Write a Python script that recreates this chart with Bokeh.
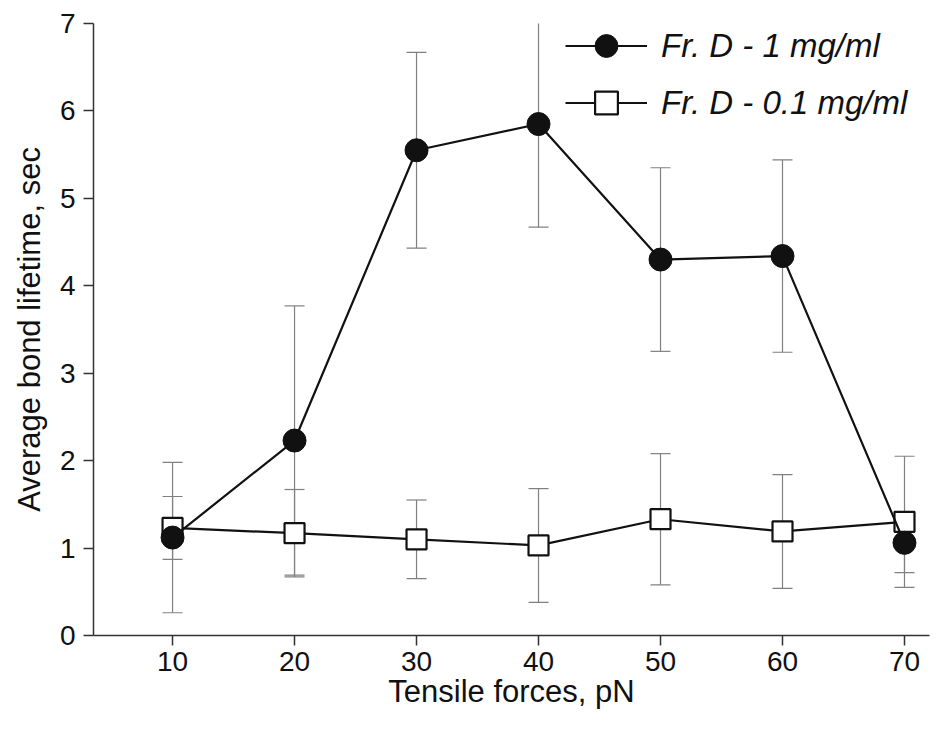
from bokeh.plotting import figure
from bokeh.models import ColumnDataSource, Whisker, TeeHead, Legend, LegendItem, Range1d, FixedTicker
from bokeh.embed import file_html
from bokeh.resources import INLINE

force = [10, 20, 30, 40, 50, 60, 70]
life_1mg = [1.12, 2.23, 5.55, 5.85, 4.30, 4.34, 1.06]
err_1mg = [0.86, 1.54, 1.12, 1.18, 1.05, 1.10, 0.34]
life_01mg = [1.23, 1.17, 1.10, 1.03, 1.33, 1.19, 1.30]
err_01mg = [0.36, 0.50, 0.45, 0.65, 0.75, 0.65, 0.75]
x_ticks = [10, 20, 30, 40, 50, 60, 70]
y_ticks = [0, 1, 2, 3, 4, 5, 6, 7]

src1 = ColumnDataSource(dict(x=force, y=life_1mg,
                             lo=[v - e for v, e in zip(life_1mg, err_1mg)],
                             hi=[v + e for v, e in zip(life_1mg, err_1mg)]))
src2 = ColumnDataSource(dict(x=force, y=life_01mg,
                             lo=[v - e for v, e in zip(life_01mg, err_01mg)],
                             hi=[v + e for v, e in zip(life_01mg, err_01mg)]))

p = figure(frame_width=836, frame_height=612, output_backend="svg", toolbar_location=None,
           x_range=Range1d(3.52, 72.05), y_range=Range1d(0, 7),
           min_border_left=93, min_border_right=17, min_border_top=23, min_border_bottom=104)
p.outline_line_color = None
p.xgrid.grid_line_color = None
p.ygrid.grid_line_color = None
p.background_fill_color = "white"
p.border_fill_color = "white"

FONT = "Liberation Sans"
for ax in (p.xaxis[0], p.yaxis[0]):
    ax.axis_line_color = "#333333"
    ax.axis_line_width = 1.5
    ax.major_tick_line_color = "#333333"
    ax.major_tick_line_width = 1.5
    ax.major_tick_out = 10
    ax.major_tick_in = 0
    ax.minor_tick_line_color = None
    ax.major_label_text_font = FONT
    ax.major_label_text_font_size = "28px"
    ax.major_label_text_color = "#111111"
    ax.axis_label_text_font = FONT
    ax.axis_label_text_font_size = "31px"
    ax.axis_label_text_font_style = "normal"
    ax.axis_label_text_color = "#111111"

p.xaxis.ticker = FixedTicker(ticks=x_ticks)
p.yaxis.ticker = FixedTicker(ticks=y_ticks)
p.xaxis.axis_label = "Tensile forces, pN"
p.yaxis.axis_label = "Average bond lifetime, sec"
p.xaxis.major_label_standoff = 6
p.yaxis.major_label_standoff = 8
p.xaxis.axis_label_standoff = 0
p.yaxis.axis_label_standoff = 10

# square series (behind)
l2 = p.line("x", "y", source=src2, line_color="#111111", line_width=2.2)
m2 = p.scatter("x", "y", source=src2, marker="square", size=20, fill_color="white",
               line_color="#111111", line_width=2.2)

# error bars
for src in (src2, src1):
    w = Whisker(source=src, base="x", lower="lo", upper="hi",
                line_color="#808080", line_width=1.2,
                upper_head=TeeHead(size=20, line_color="#808080", line_width=1.2),
                lower_head=TeeHead(size=20, line_color="#808080", line_width=1.2))
    p.add_layout(w)

# circle series (front)
l1 = p.line("x", "y", source=src1, line_color="#111111", line_width=2.2)
m1 = p.scatter("x", "y", source=src1, marker="circle", size=23, fill_color="#111111",
               line_color="#111111")

legend = Legend(items=[LegendItem(label="Fr. D - 1 mg/ml", renderers=[l1, m1]),
                       LegendItem(label="Fr. D - 0.1 mg/ml", renderers=[l2, m2])],
                location=(472, 504), orientation="vertical",
                label_text_font=FONT, label_text_font_size="33px",
                label_text_font_style="italic", label_text_color="#111111",
                glyph_width=82, glyph_height=57, label_height=57, label_standoff=14,
                spacing=0, padding=0, margin=0,
                border_line_color=None, background_fill_alpha=0)
p.add_layout(legend)

open("out.html", "w").write(file_html(p, INLINE))
